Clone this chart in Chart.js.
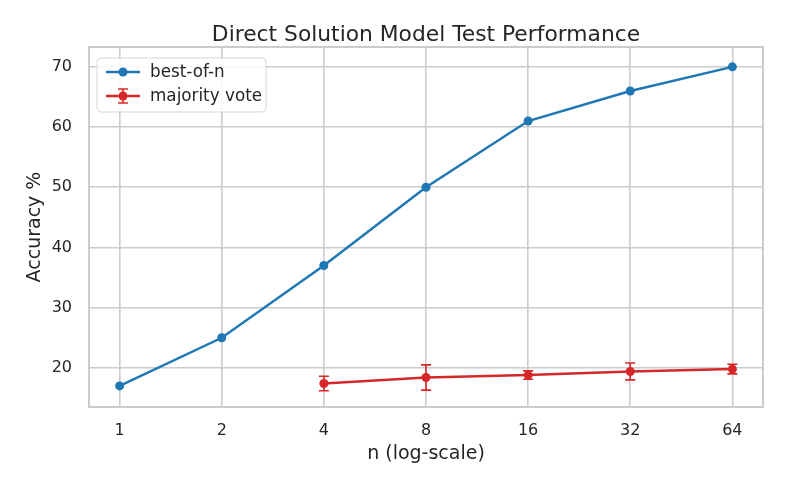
<!DOCTYPE html>
<html>
<head>
<meta charset="utf-8">
<script src="https://cdn.jsdelivr.net/npm/chart.js@4/dist/chart.umd.min.js"></script>
<style>
  html, body { margin: 0; padding: 0; background: #fff; }
  #wrap { width: 789px; height: 493px; }
</style>
</head>
<body>
<div id="wrap"><canvas id="perfChart" width="789" height="493"></canvas></div>
<script>
// n values (plotted on log2 axis)
const nValues = [1, 2, 4, 8, 16, 32, 64];
const bestOfN = [17, 25, 37, 50, 61, 66, 70];

const majorityN = [4, 8, 16, 32, 64];
const majorityVote = [17.4, 18.4, 18.8, 19.4, 19.8];
const majorityLow = [16.2, 16.3, 18.1, 18.0, 19.0];
const majorityHigh = [18.6, 20.5, 19.5, 20.8, 20.6];

const BLUE = '#1f77b4';
const RED = '#d62728';
const GRID = '#cccccc';
const TEXT = '#262626';
const FONT = "'DejaVu Sans', sans-serif";
const TITLE = 'Direct Solution Model Test Performance';

const toPts = (xs, ys) => xs.map((n, i) => ({ x: Math.log2(n), y: ys[i] }));

// error bars for the majority-vote series
const errorBars = {
  id: 'errorBars',
  afterDatasetsDraw(chart) {
    const { ctx, scales: { x, y } } = chart;
    ctx.save();
    ctx.strokeStyle = RED;
    ctx.lineWidth = 1.6;
    majorityN.forEach((n, i) => {
      const px = x.getPixelForValue(Math.log2(n));
      const lo = y.getPixelForValue(majorityLow[i]);
      const hi = y.getPixelForValue(majorityHigh[i]);
      ctx.beginPath();
      ctx.moveTo(px, lo); ctx.lineTo(px, hi);
      ctx.moveTo(px - 5, lo); ctx.lineTo(px + 5, lo);
      ctx.moveTo(px - 5, hi); ctx.lineTo(px + 5, hi);
      ctx.stroke();
    });
    ctx.restore();
  }
};

// title over the plot area, axes frame, legend box
const frameAndLegend = {
  id: 'frameAndLegend',
  afterDraw(chart) {
    const { ctx, chartArea: a } = chart;
    ctx.save();
    ctx.fillStyle = TEXT;
    ctx.font = '21.8px ' + FONT;
    ctx.textAlign = 'center';
    ctx.textBaseline = 'middle';
    ctx.fillText(TITLE, (a.left + a.right) / 2, a.top - 12);
    ctx.textAlign = 'left';

    ctx.strokeStyle = GRID;
    ctx.lineWidth = 2;
    ctx.strokeRect(a.left, a.top, a.right - a.left, a.bottom - a.top);

    // legend
    const lx = a.left + 8, ly = a.top + 11, lw = 169, lh = 54;
    ctx.fillStyle = 'rgba(255,255,255,0.85)';
    ctx.strokeStyle = '#d6d6d6';
    ctx.lineWidth = 1;
    ctx.beginPath();
    ctx.roundRect(lx, ly, lw, lh, 4);
    ctx.fill(); ctx.stroke();

    const rows = [
      { label: 'best-of-n', color: BLUE, err: false },
      { label: 'majority vote', color: RED, err: true }
    ];
    ctx.font = '16.8px ' + FONT;
    ctx.textBaseline = 'middle';
    rows.forEach((r, i) => {
      const cy = ly + 14 + i * 24;
      const x0 = lx + 9, x1 = lx + 43, xm = (x0 + x1) / 2;
      ctx.strokeStyle = r.color;
      ctx.lineWidth = 2.5;
      ctx.beginPath(); ctx.moveTo(x0, cy); ctx.lineTo(x1, cy); ctx.stroke();
      if (r.err) {
        ctx.lineWidth = 1.6;
        ctx.beginPath();
        ctx.moveTo(xm, cy - 7); ctx.lineTo(xm, cy + 7);
        ctx.moveTo(xm - 5, cy - 7); ctx.lineTo(xm + 5, cy - 7);
        ctx.moveTo(xm - 5, cy + 7); ctx.lineTo(xm + 5, cy + 7);
        ctx.stroke();
      }
      ctx.fillStyle = r.color;
      ctx.beginPath(); ctx.arc(xm, cy, 4.5, 0, Math.PI * 2); ctx.fill();
      ctx.fillStyle = TEXT;
      ctx.fillText(r.label, lx + 53, cy + 1);
    });
    ctx.restore();
  }
};

new Chart(document.getElementById('perfChart'), {
  type: 'line',
  data: {
    datasets: [
      {
        label: 'best-of-n',
        data: toPts(nValues, bestOfN),
        borderColor: BLUE,
        backgroundColor: BLUE,
        borderWidth: 2.5,
        pointRadius: 4.5,
        pointBorderWidth: 0,
        tension: 0
      },
      {
        label: 'majority vote',
        data: toPts(majorityN, majorityVote),
        borderColor: RED,
        backgroundColor: RED,
        borderWidth: 2.5,
        pointRadius: 4.5,
        pointBorderWidth: 0,
        tension: 0
      }
    ]
  },
  options: {
    responsive: false,
    animation: false,
    layout: { padding: { top: 47, right: 26, left: 23.6, bottom: 27.6 } },
    plugins: {
      legend: { display: false },
      tooltip: { enabled: false },
      title: { display: false }
    },
    scales: {
      x: {
        type: 'linear',
        min: -0.3,
        max: 6.3,
        afterBuildTicks: s => { s.ticks = nValues.map(n => ({ value: Math.log2(n) })); },
        grid: { color: GRID, lineWidth: 1.6, drawTicks: false },
        border: { display: false },
        ticks: {
          color: TEXT,
          padding: 14.5,
          font: { family: FONT, size: 16 },
          callback: v => String(Math.round(Math.pow(2, v)))
        },
        title: {
          display: true,
          text: 'n (log-scale)',
          color: TEXT,
          font: { family: FONT, size: 19 },
          padding: { top: -12.6, bottom: 0 }
        }
      },
      y: {
        min: 13.5,
        max: 73.3,
        afterFit: s => { s.width = 65.4; },
        afterBuildTicks: s => { s.ticks = [20, 30, 40, 50, 60, 70].map(v => ({ value: v })); },
        grid: { color: GRID, lineWidth: 1.6, drawTicks: false },
        border: { display: false },
        ticks: {
          color: TEXT,
          padding: 17,
          font: { family: FONT, size: 16 }
        },
        title: {
          display: true,
          text: 'Accuracy %',
          color: TEXT,
          font: { family: FONT, size: 19 },
          padding: { top: 0, bottom: 0 }
        }
      }
    }
  },
  plugins: [errorBars, frameAndLegend]
});
</script>
</body>
</html>
